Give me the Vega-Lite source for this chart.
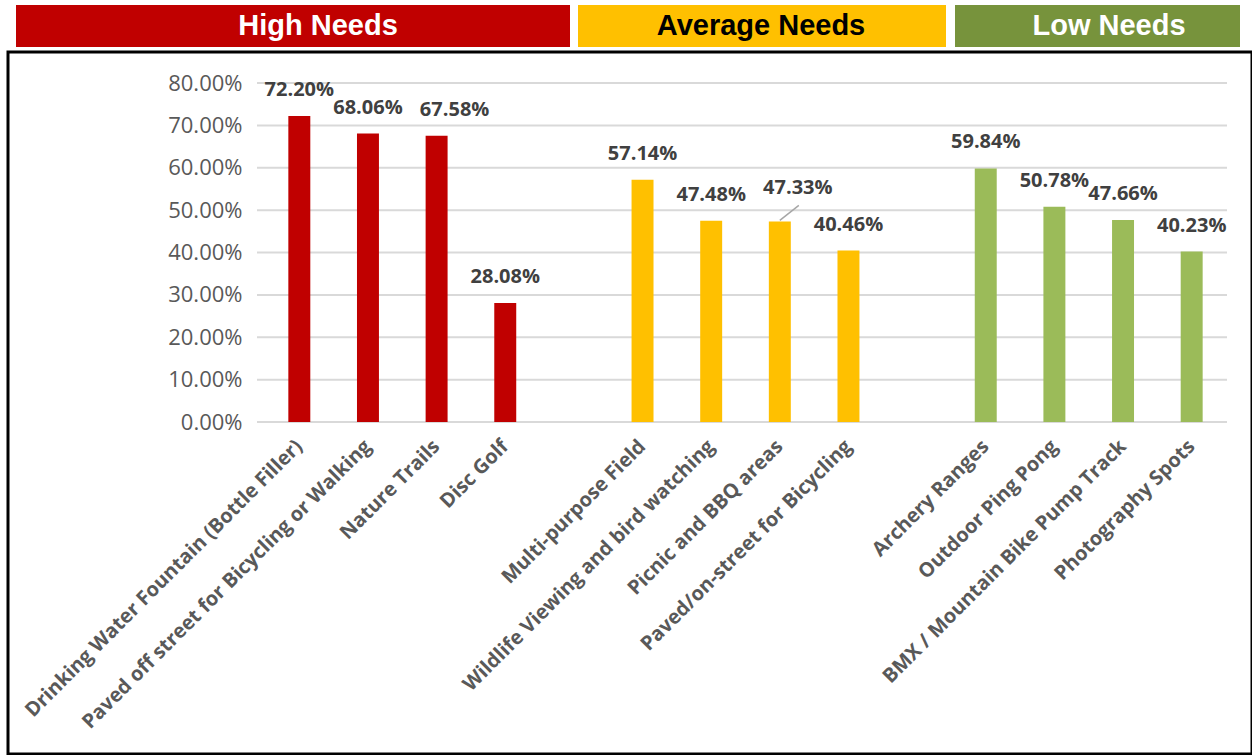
{
  "$schema": "https://vega.github.io/schema/vega-lite/v6.json",
  "padding": {"left": 6, "top": 5, "right": 2, "bottom": 3},
  "background": "white",
  "spacing": 3,
  "config": {"view": {"stroke": null}, "font": "Open Sans"},
  "resolve": {"scale": {"color": "independent"}},
  "vconcat": [
    {
      "width": 1244,
      "height": 42,
      "data": {"values": [
        {"g": "High Needs", "x0": 14, "x1": 568, "tx": 316},
        {"g": "Average Needs", "x0": 576, "x1": 944, "tx": 759},
        {"g": "Low Needs", "x0": 953, "x1": 1238, "tx": 1107}
      ]},
      "layer": [
        {
          "mark": {"type": "rect"},
          "encoding": {
            "x": {"field": "x0", "type": "quantitative", "scale": {"domain": [6, 1250], "zero": false, "nice": false}, "axis": null},
            "x2": {"field": "x1"},
            "color": {"field": "g", "type": "nominal", "scale": {"domain": ["High Needs", "Average Needs", "Low Needs"], "range": ["#C00000", "#FFC000", "#77933C"]}, "legend": null}
          }
        },
        {
          "mark": {"type": "text", "font": "Liberation Sans", "fontWeight": "bold", "fontSize": 29, "baseline": "middle", "align": "center"},
          "encoding": {
            "x": {"field": "tx", "type": "quantitative"},
            "text": {"field": "g"},
            "color": {"condition": {"test": "datum.g === 'Average Needs'", "value": "black"}, "value": "white"}
          }
        }
      ]
    },
    {
      "width": 1244,
      "height": 702,
      "view": {"stroke": "black", "strokeWidth": 3},
      "resolve": {"scale": {"x": "independent"}},
      "layer": [
        {
          "data": {"values": [{"t": 0}, {"t": 0.1}, {"t": 0.2}, {"t": 0.3}, {"t": 0.4}, {"t": 0.5}, {"t": 0.6}, {"t": 0.7}, {"t": 0.8}]},
          "mark": {"type": "rule", "color": "#D9D9D9", "strokeWidth": 2},
          "encoding": {
            "x": {"datum": 0, "type": "quantitative", "scale": {"domain": [0, 1], "range": [249, 1219]}, "axis": null},
            "x2": {"datum": 1},
            "y": {"field": "t", "type": "quantitative", "scale": {"domain": [0, 0.8], "range": [370, 31]},
              "axis": {"values": [0, 0.1, 0.2, 0.3, 0.4, 0.5, 0.6, 0.7, 0.8], "format": ".2%", "grid": false, "domain": false, "ticks": false, "tickSize": 0, "offset": -240, "labelPadding": 6, "labelFont": "Open Sans", "labelFontSize": 22, "labelColor": "#595959", "title": null}}
          }
        },
        {
          "data": {"values": [
            {"c": "Drinking Water Fountain (Bottle Filler)", "v": 0.7220, "g": "High"},
            {"c": "Paved off street for Bicycling or Walking", "v": 0.6806, "g": "High"},
            {"c": "Nature Trails", "v": 0.6758, "g": "High"},
            {"c": "Disc Golf", "v": 0.2808, "g": "High"},
            {"c": "Multi-purpose Field", "v": 0.5714, "g": "Average"},
            {"c": "Wildlife Viewing and bird watching", "v": 0.4748, "g": "Average"},
            {"c": "Picnic and BBQ areas", "v": 0.4733, "g": "Average"},
            {"c": "Paved/on-street for Bicycling", "v": 0.4046, "g": "Average"},
            {"c": "Archery Ranges", "v": 0.5984, "g": "Low"},
            {"c": "Outdoor Ping Pong", "v": 0.5078, "g": "Low"},
            {"c": "BMX / Mountain Bike Pump Track", "v": 0.4766, "g": "Low"},
            {"c": "Photography Spots", "v": 0.4023, "g": "Low"}
          ]},
          "encoding": {
            "x": {"field": "c", "type": "nominal", "sort": null,
              "scale": {"domain": ["Drinking Water Fountain (Bottle Filler)", "Paved off street for Bicycling or Walking", "Nature Trails", "Disc Golf", " ", "Multi-purpose Field", "Wildlife Viewing and bird watching", "Picnic and BBQ areas", "Paved/on-street for Bicycling", "  ", "Archery Ranges", "Outdoor Ping Pong", "BMX / Mountain Bike Pump Track", "Photography Spots"], "range": [257, 1218], "paddingInner": 0.68, "paddingOuter": 0.34},
              "axis": {"orient": "bottom", "offset": -332, "labelAngle": -45, "labelAlign": "right", "labelBaseline": "middle", "labelPadding": 21, "labelFont": "Open Sans", "labelFontSize": 20, "labelFontWeight": "bold", "labelColor": "#595959", "labelLimit": 0, "labelOverlap": false, "ticks": false, "domain": false, "grid": false, "title": null}},
            "y": {"field": "v", "type": "quantitative", "scale": {"domain": [0, 0.8], "range": [370, 31]},
              "axis": {"values": [0, 0.1, 0.2, 0.3, 0.4, 0.5, 0.6, 0.7, 0.8], "format": ".2%", "grid": false, "domain": false, "ticks": false, "tickSize": 0, "offset": -240, "labelPadding": 6, "labelFont": "Open Sans", "labelFontSize": 22, "labelColor": "#595959", "title": null}}
          },
          "layer": [
            {
              "mark": {"type": "bar"},
              "encoding": {
                "color": {"field": "g", "type": "nominal", "scale": {"domain": ["High", "Average", "Low"], "range": ["#C00000", "#FFC000", "#9BBB59"]}, "legend": null}
              }
            },
            {
              "transform": [{"filter": "datum.c !== 'Picnic and BBQ areas' && datum.c !== 'Nature Trails'"}],
              "mark": {"type": "text", "font": "Open Sans", "fontWeight": "bold", "fontSize": 20, "color": "#404040", "baseline": "middle", "dy": -26},
              "encoding": {"text": {"field": "v", "type": "quantitative", "format": ".2%"}}
            },
            {
              "transform": [{"filter": "datum.c === 'Nature Trails'"}],
              "mark": {"type": "text", "font": "Open Sans", "fontWeight": "bold", "fontSize": 20, "color": "#404040", "baseline": "middle", "dx": 18, "dy": -26},
              "encoding": {"text": {"field": "v", "type": "quantitative", "format": ".2%"}}
            },
            {
              "transform": [{"filter": "datum.c === 'Picnic and BBQ areas'"}],
              "mark": {"type": "text", "font": "Open Sans", "fontWeight": "bold", "fontSize": 20, "color": "#404040", "baseline": "middle", "dx": 18, "dy": -33},
              "encoding": {"text": {"field": "v", "type": "quantitative", "format": ".2%"}}
            },
            {
              "transform": [{"filter": "datum.c === 'Picnic and BBQ areas'"}],
              "mark": {"type": "rule", "color": "#A6A6A6", "strokeWidth": 1.5, "yOffset": -1, "x2Offset": 19, "y2Offset": -16},
              "encoding": {"x2": {"field": "c"}, "y2": {"field": "v"}}
            }
          ]
        }
      ]
    }
  ]
}
